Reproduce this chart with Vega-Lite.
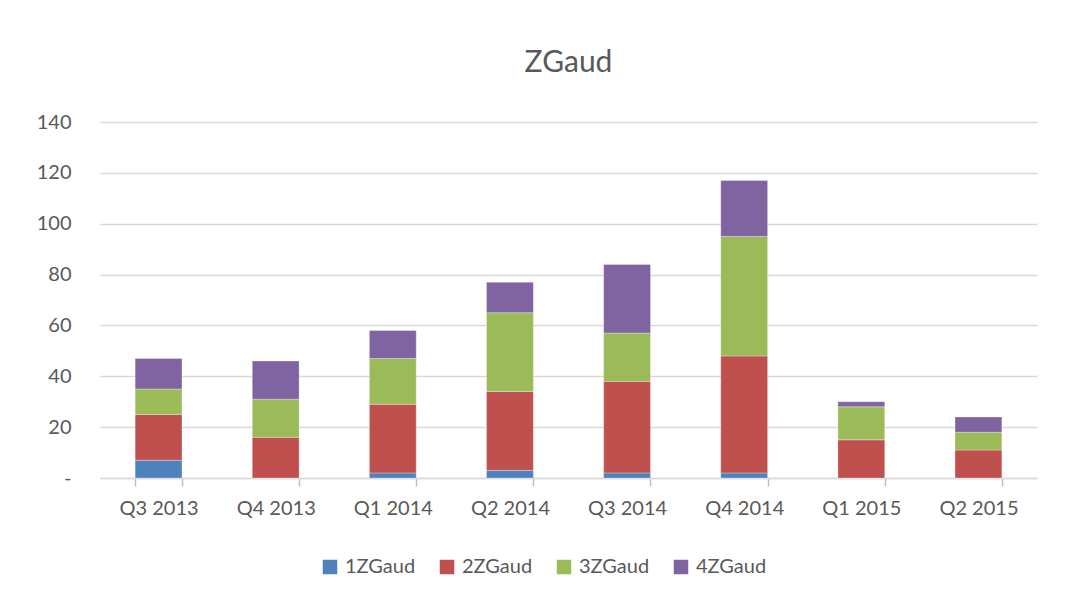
{
  "$schema": "https://vega.github.io/schema/vega-lite/v6.json",
  "width": 937,
  "height": 356,
  "padding": {"left": 36, "top": 48, "right": 20, "bottom": 10},
  "background": "white",
  "title": {"text": "ZGaud", "fontSize": 30, "font": "Lato", "fontWeight": "normal", "color": "#595959", "offset": 34},
  "data": {"values": [
    {"q": "Q3 2013", "s": "1ZGaud", "v": 7}, {"q": "Q3 2013", "s": "2ZGaud", "v": 18}, {"q": "Q3 2013", "s": "3ZGaud", "v": 10}, {"q": "Q3 2013", "s": "4ZGaud", "v": 12},
    {"q": "Q4 2013", "s": "1ZGaud", "v": 0}, {"q": "Q4 2013", "s": "2ZGaud", "v": 16}, {"q": "Q4 2013", "s": "3ZGaud", "v": 15}, {"q": "Q4 2013", "s": "4ZGaud", "v": 15},
    {"q": "Q1 2014", "s": "1ZGaud", "v": 2}, {"q": "Q1 2014", "s": "2ZGaud", "v": 27}, {"q": "Q1 2014", "s": "3ZGaud", "v": 18}, {"q": "Q1 2014", "s": "4ZGaud", "v": 11},
    {"q": "Q2 2014", "s": "1ZGaud", "v": 3}, {"q": "Q2 2014", "s": "2ZGaud", "v": 31}, {"q": "Q2 2014", "s": "3ZGaud", "v": 31}, {"q": "Q2 2014", "s": "4ZGaud", "v": 12},
    {"q": "Q3 2014", "s": "1ZGaud", "v": 2}, {"q": "Q3 2014", "s": "2ZGaud", "v": 36}, {"q": "Q3 2014", "s": "3ZGaud", "v": 19}, {"q": "Q3 2014", "s": "4ZGaud", "v": 27},
    {"q": "Q4 2014", "s": "1ZGaud", "v": 2}, {"q": "Q4 2014", "s": "2ZGaud", "v": 46}, {"q": "Q4 2014", "s": "3ZGaud", "v": 47}, {"q": "Q4 2014", "s": "4ZGaud", "v": 22},
    {"q": "Q1 2015", "s": "1ZGaud", "v": 0}, {"q": "Q1 2015", "s": "2ZGaud", "v": 15}, {"q": "Q1 2015", "s": "3ZGaud", "v": 13}, {"q": "Q1 2015", "s": "4ZGaud", "v": 2},
    {"q": "Q2 2015", "s": "1ZGaud", "v": 0}, {"q": "Q2 2015", "s": "2ZGaud", "v": 11}, {"q": "Q2 2015", "s": "3ZGaud", "v": 7}, {"q": "Q2 2015", "s": "4ZGaud", "v": 6}
  ]},
  "mark": {"type": "bar", "stroke": "white", "strokeWidth": 0.5, "strokeOpacity": 0.6},
  "encoding": {
    "x": {
      "field": "q", "type": "nominal", "sort": null, "title": null,
      "scale": {"paddingInner": 0.6, "paddingOuter": 0.3},
      "axis": {"labelAngle": 0, "labelFontSize": 20, "labelFont": "Lato", "labelColor": "#595959", "labelPadding": 12, "ticks": true, "tickBand": "extent", "tickColor": "#bfbfbf", "tickSize": 8, "tickWidth": 1.5, "domainColor": "#d9d9d9", "domainWidth": 1.5, "grid": false}
    },
    "y": {
      "field": "v", "type": "quantitative", "aggregate": "sum", "stack": "zero", "title": null,
      "scale": {"domain": [0, 140]},
      "axis": {"values": [0, 20, 40, 60, 80, 100, 120, 140], "labelExpr": "datum.value == 0 ? '-' : datum.label", "labelFontSize": 20, "labelFont": "Lato", "labelColor": "#595959", "labelPadding": 29, "ticks": false, "domain": false, "gridColor": "#d9d9d9", "gridWidth": 1.5}
    },
    "color": {
      "field": "s", "type": "nominal", "title": null,
      "scale": {"domain": ["1ZGaud", "2ZGaud", "3ZGaud", "4ZGaud"], "range": ["#4f81bd", "#c0504d", "#9bbb59", "#8064a2"]},
      "legend": {"orient": "none", "legendX": 220, "legendY": 435, "direction": "horizontal", "symbolType": "square", "symbolSize": 210, "symbolStrokeWidth": 0, "labelFontSize": 20, "labelFont": "Lato", "labelColor": "#595959", "columnPadding": 21, "labelOffset": 5}
    },
    "order": {"field": "s", "sort": "ascending"}
  },
  "config": {"view": {"stroke": null}}
}
